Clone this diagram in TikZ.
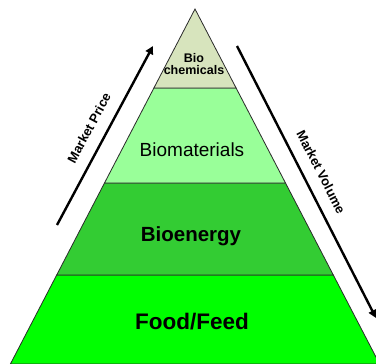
\documentclass[tikz,border=0pt]{standalone}
\usepackage{fontspec}
\setmainfont{Liberation Sans}
\usetikzlibrary{positioning, arrows.meta, calc}
\definecolor{chemcol}{HTML}{D7E4BD}
\definecolor{matcol}{HTML}{99FF99}
\definecolor{enercol}{HTML}{33CC33}
\definecolor{foodcol}{HTML}{00FF00}
\definecolor{edgecol}{HTML}{2A2A2A}
\tikzset{
  layer/.style={draw=edgecol, line width=0.8pt},
  marketarrow/.style={line width=2.4pt, -{Triangle[length=8pt,width=8pt]}},
  marketlabel/.style={font=\fontsize{13}{14}\selectfont\bfseries, inner sep=1pt}
}
\begin{document}
\begin{tikzpicture}[x=1pt, y=-1pt]
            \useasboundingbox (0,0) rectangle (376,364);
            \clip (0,0) rectangle (376,364);
            % Pyramid corner points
            \coordinate (Apex) at (195,9);
            \coordinate (L1) at (153.9,88);  \coordinate (R1) at (236.1,88);
            \coordinate (L2) at (104.5,183); \coordinate (R2) at (285.5,183);
            \coordinate (L3) at (56.7,275);  \coordinate (R3) at (333.3,275);
            \coordinate (L4) at (10.4,364);  \coordinate (R4) at (379.6,364);
            
            % Layers
            \filldraw[layer, fill=foodcol] (L3) -- (R3) -- (R4) -- (L4) -- cycle;
            \filldraw[layer, fill=enercol] (L2) -- (R2) -- (R3) -- (L3) -- cycle;
            \filldraw[layer, fill=matcol] (L1) -- (R1) -- (R2) -- (L2) -- cycle;
            \filldraw[layer, fill=chemcol] (Apex) -- (R1) -- (L1) -- cycle;
            
            % Layer labels
            \node[font=\fontsize{12.5}{12}\selectfont\bfseries, align=center] (chem) at (194,64) {Bio\\chemicals};
            \node[font=\fontsize{19}{21}\selectfont] (mat) at (192,150) {Biomaterials};
            \node[font=\fontsize{20.5}{22}\selectfont\bfseries] (ener) at (191,236) {Bioenergy};
            \node[font=\fontsize{22.5}{24}\selectfont\bfseries] (food) at (192,322) {Food/Feed};
            
            % Market arrows
            \coordinate (PriceStart) at (57,225);
            \coordinate (PriceEnd) at (153,46);
            \coordinate (VolStart) at (237,46);
            \coordinate (VolEnd) at (376,318);
            \draw[marketarrow] (PriceStart) -- (PriceEnd);
            \draw[marketarrow] (VolStart) -- (VolEnd);
            \node[marketlabel, rotate=61.8] (price) at (89,128) {Market Price};
            \node[marketlabel, rotate=-62.9] (volume) at (321,172) {Market Volume};
        \end{tikzpicture}
\end{document}
